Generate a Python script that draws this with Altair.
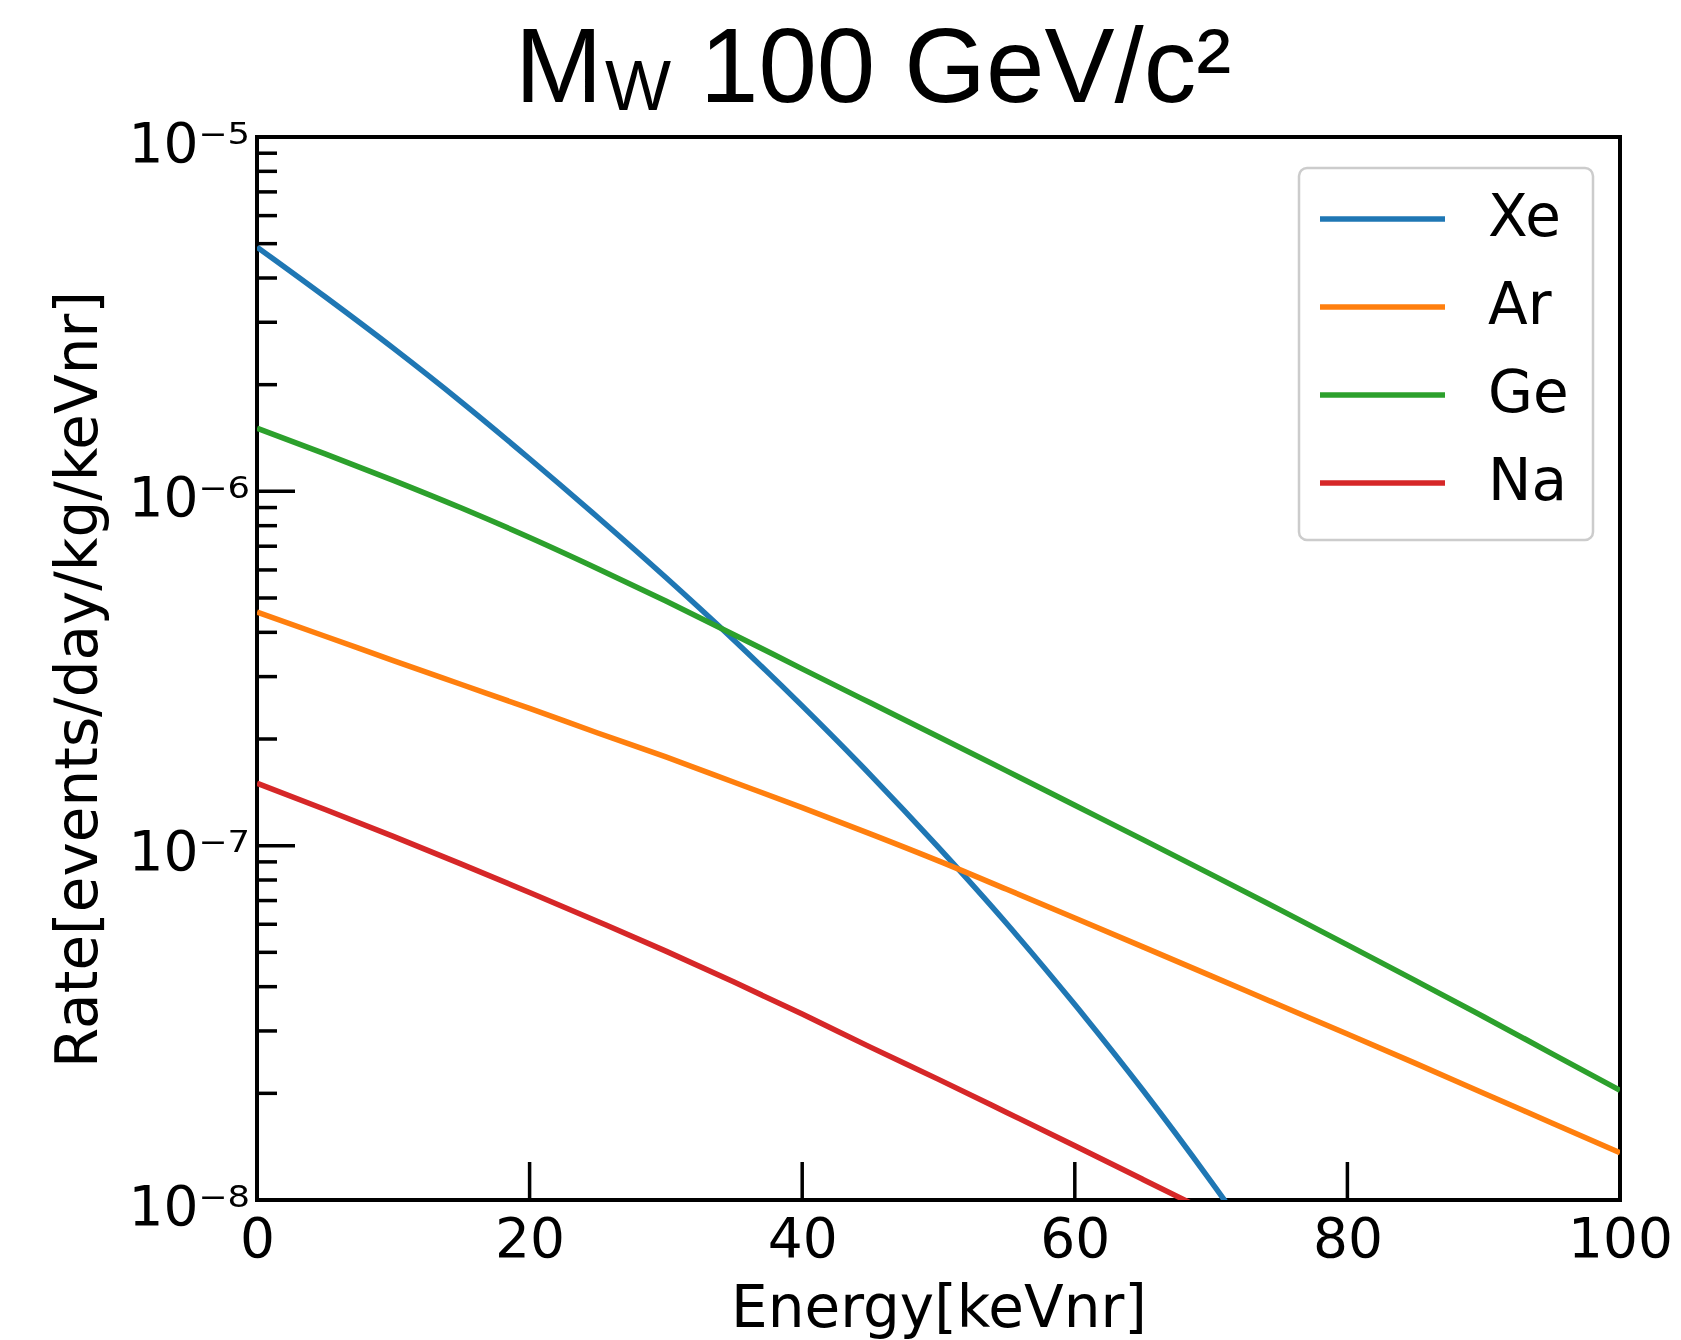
import math
import altair as alt
import pandas as pd

# ---------------- data ----------------
elements = ["Xe", "Ar", "Ge", "Na"]
colors = ["#1f77b4", "#ff7f0e", "#2ca02c", "#d62728"]

xe_energy = [0, 5, 10, 15, 20, 25, 30, 35, 40, 45, 50, 55, 60, 65, 70, 75]
xe_rate = [4.89e-6, 3.54e-6, 2.535e-6, 1.786e-6, 1.236e-6, 8.45e-7, 5.71e-7, 3.80e-7,
           2.48e-7, 1.585e-7, 9.89e-8, 6.03e-8, 3.56e-8, 2.04e-8, 1.127e-8, 6.03e-9]

ar_energy = [0, 5, 10, 15, 20, 25, 30, 35, 40, 45, 50, 55, 60, 65, 70, 75, 80, 85, 90, 95, 100]
ar_rate = [4.56e-7, 3.90e-7, 3.33e-7, 2.85e-7, 2.44e-7, 2.08e-7, 1.78e-7, 1.51e-7,
           1.28e-7, 1.08e-7, 9.06e-8, 7.53e-8, 6.25e-8, 5.18e-8, 4.29e-8, 3.55e-8,
           2.94e-8, 2.43e-8, 2.00e-8, 1.65e-8, 1.36e-8]

ge_energy = [0, 5, 10, 15, 20, 25, 30, 35, 40, 45, 50, 55, 60, 65, 70, 75, 80, 85, 90, 95, 100]
ge_rate = [1.507e-6, 1.276e-6, 1.074e-6, 8.97e-7, 7.41e-7, 6.05e-7, 4.90e-7, 3.94e-7,
           3.155e-7, 2.53e-7, 2.03e-7, 1.626e-7, 1.30e-7, 1.04e-7, 8.30e-8, 6.61e-8,
           5.25e-8, 4.16e-8, 3.29e-8, 2.59e-8, 2.04e-8]

na_energy = [0, 5, 10, 15, 20, 25, 30, 35, 40, 45, 50, 55, 60, 65, 70]
na_rate = [1.50e-7, 1.265e-7, 1.062e-7, 8.87e-8, 7.38e-8, 6.11e-8, 5.04e-8, 4.12e-8,
           3.35e-8, 2.70e-8, 2.19e-8, 1.766e-8, 1.422e-8, 1.143e-8, 9.18e-9]

x_tick_values = [0, 20, 40, 60, 80, 100]
y_tick_values = [1e-8, 1e-7, 1e-6, 1e-5]
y_tick_labels = ["10\u207b\u2078", "10\u207b\u2077", "10\u207b\u2076", "10\u207b\u2075"]
y_minor_values = [2e-8, 3e-8, 4e-8, 5e-8, 6e-8, 7e-8, 8e-8, 9e-8,
                  2e-7, 3e-7, 4e-7, 5e-7, 6e-7, 7e-7, 8e-7, 9e-7,
                  2e-6, 3e-6, 4e-6, 5e-6, 6e-6, 7e-6, 8e-6, 9e-6]

title_main = "M"
title_sub = "W"
title_rest = "100 GeV/c\u00b2"
x_title = "Energy[keVnr]"
y_title = "Rate[events/day/kg/keVnr]"

# ---------------- tables ----------------
series = {"Xe": (xe_energy, xe_rate), "Ar": (ar_energy, ar_rate),
          "Ge": (ge_energy, ge_rate), "Na": (na_energy, na_rate)}
rows = []
for name in elements:
    e, r = series[name]
    for a, b in zip(e, r):
        rows.append({"element": name, "energy": a, "rate": b})
df = pd.DataFrame(rows)

label_expr = " : ".join(
    f"round(log(datum.value)/LN10) == {round(math.log10(v))} ? '{l}'"
    for v, l in zip(y_tick_values, y_tick_labels)
) + " : ''"

W, H = 1363, 1063
FONT = "DejaVu Sans"
LW = 5.5
TW = 3.5

xs = alt.Scale(domain=[0, 100], nice=False, zero=False)
ys = alt.Scale(type="log", domain=[1e-8, 1e-5], nice=False)
cs = alt.Scale(domain=elements, range=colors)

x_axis = alt.Axis(values=x_tick_values, title=x_title, titleY=126, titleBaseline="alphabetic",
                  labelPadding=13, labelFlush=False, labelOverlap=False)

lines = alt.Chart(df).mark_line(strokeWidth=LW, clip=True, interpolate="monotone").encode(
    x=alt.X("energy:Q", scale=xs, axis=x_axis),
    y=alt.Y("rate:Q", scale=ys, axis=alt.Axis(
        values=y_tick_values, labelExpr=label_expr, title=y_title,
        titleX=-161, titleY=542, titleAngle=270, titleBaseline="alphabetic",
        labelPadding=8, labelBaseline="middle", labelOffset=7,
        labelFlush=False, labelOverlap=False)),
    color=alt.Color("element:N", scale=cs, legend=None),
)

xt = alt.Chart(pd.DataFrame({"energy": x_tick_values})).mark_rule(strokeWidth=TW, color="black").encode(
    x=alt.X("energy:Q", scale=xs, axis=x_axis), y=alt.value(H), y2=alt.value(H - 38))
ytM = alt.Chart(pd.DataFrame({"t": y_tick_values})).mark_rule(strokeWidth=TW, color="black").encode(
    y=alt.Y("t:Q", scale=ys, axis=None), x=alt.value(0), x2=alt.value(38))
ytm = alt.Chart(pd.DataFrame({"t": y_minor_values})).mark_rule(strokeWidth=TW, color="black").encode(
    y=alt.Y("t:Q", scale=ys, axis=None), x=alt.value(0), x2=alt.value(20))

one = pd.DataFrame({"k": [0]})
leg_df = pd.DataFrame({"element": elements})
leg_y = alt.Y("element:N", scale=alt.Scale(type="point", domain=elements, range=[82, 346], padding=0), axis=None)

legend_box = alt.Chart(one).mark_rect(fill="white", fillOpacity=0.8, stroke="#cccccc",
                                       strokeWidth=2.5, cornerRadius=8).encode(
    x=alt.value(1042), x2=alt.value(1336), y=alt.value(31), y2=alt.value(403))
legend_lines = alt.Chart(leg_df).mark_rule(strokeWidth=LW).encode(
    x=alt.value(1063), x2=alt.value(1188), y=leg_y,
    color=alt.Color("element:N", scale=cs, legend=None))
legend_text = alt.Chart(leg_df).mark_text(align="left", baseline="middle", font=FONT,
                                          fontSize=58, color="black").encode(
    x=alt.value(1231), y=leg_y, text="element:N")

t1 = alt.Chart(one).mark_text(text=title_main, font="Liberation Sans", fontSize=105, align="left",
                              baseline="alphabetic", color="black").encode(x=alt.value(258), y=alt.value(-35))
t2 = alt.Chart(one).mark_text(text=title_sub, font="Liberation Sans", fontSize=70, align="left",
                              baseline="alphabetic", color="black").encode(x=alt.value(348), y=alt.value(-27))
t3 = alt.Chart(one).mark_text(text=title_rest, font="Liberation Sans", fontSize=105, align="left",
                              baseline="alphabetic", color="black").encode(x=alt.value(443), y=alt.value(-35))

chart = alt.layer(
    lines, xt, ytM, ytm, legend_box, legend_lines, legend_text, t1, t2, t3
).resolve_scale(y="independent").properties(
    width=W, height=H,
    autosize=alt.AutoSizeParams(type="none"),
    padding={"left": 257, "top": 137, "right": 61, "bottom": 140},
    background="white",
).configure_view(stroke="black", strokeWidth=4).configure_axis(
    grid=False, domain=False, ticks=False, tickSize=0,
    labelFont=FONT, labelFontSize=55, labelColor="black",
    titleFont=FONT, titleFontSize=58, titleFontWeight="normal", titleColor="black",
)

chart.save("out.html", embed_options={"renderer": "svg", "actions": False})
